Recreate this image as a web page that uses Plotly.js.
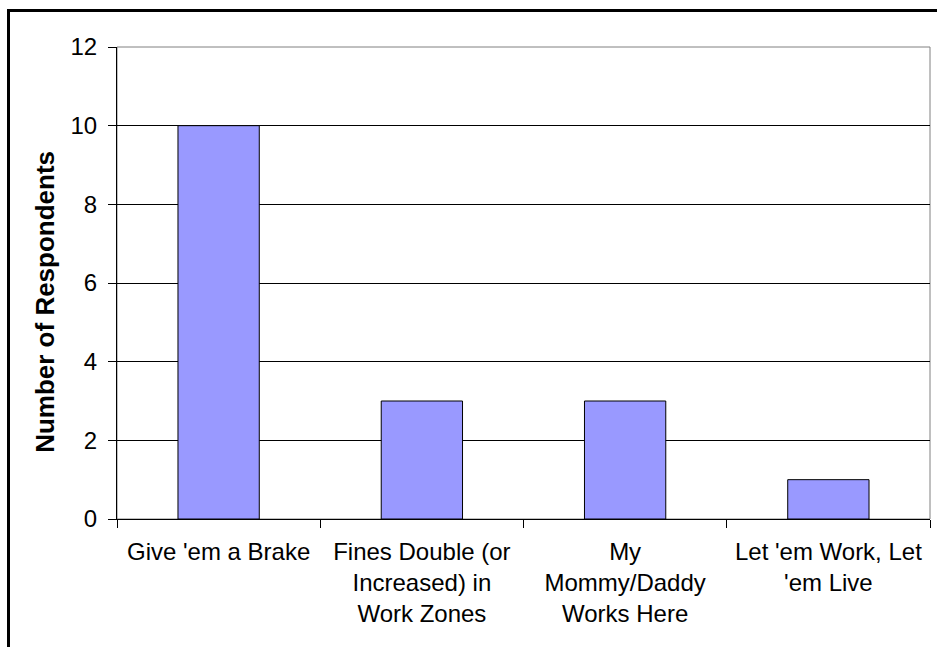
<!DOCTYPE html>
<html>
<head>
<meta charset="utf-8">
<script src="https://cdn.plot.ly/plotly-3.0.1.min.js"></script>
<style>
  html, body { margin: 0; padding: 0; background: #fff; overflow: hidden; }
  #chart { width: 937px; height: 647px; }
  #frame { position: absolute; left: 7px; top: 9px; width: 1000px; height: 1000px;
           border: 3px solid #000; pointer-events: none; box-sizing: border-box; }
</style>
</head>
<body>
<div id="chart"></div>
<div id="frame"></div>
<script>
const categories = [
  "Give 'em a Brake",
  "Fines Double (or<br>Increased) in<br>Work Zones",
  "My<br>Mommy/Daddy<br>Works Here",
  "Let 'em Work, Let<br>'em Live"
];
const respondents = [10, 3, 3, 1];
const yTickValues = [0, 2, 4, 6, 8, 10, 12];
const yAxisTitle = "Number of Respondents";

const font = "Liberation Sans, Arial, sans-serif";

const trace = {
  type: 'bar',
  x: categories,
  y: respondents,
  marker: { color: '#9999FF', line: { color: '#000000', width: 1 } },
  hoverinfo: 'x+y'
};

const layout = {
  width: 937,
  height: 647,
  margin: { l: 117, r: 7, t: 47, b: 128 },
  paper_bgcolor: '#ffffff',
  plot_bgcolor: '#ffffff',
  bargap: 0.6,
  showlegend: false,
  font: { family: font, size: 24, color: '#000' },
  xaxis: {
    type: 'category',
    tickson: 'boundaries',
    ticks: 'outside',
    ticklen: 8,
    tickcolor: '#000',
    showline: true,
    linecolor: '#000',
    linewidth: 1,
    showgrid: false,
    ticklabelstandoff: 11,
    tickfont: { family: font, size: 24, color: '#000' }
  },
  yaxis: {
    range: [0, 12],
    tickvals: yTickValues,
    ticks: 'outside',
    ticklen: 8,
    tickcolor: '#000',
    showline: true,
    linecolor: '#000',
    linewidth: 1,
    showgrid: true,
    gridcolor: '#000',
    gridwidth: 1,
    zeroline: false,
    ticklabelstandoff: 6,
    tickfont: { family: font, size: 24, color: '#000' }
  },
  annotations: [{
    text: yAxisTitle,
    xref: 'paper', yref: 'paper',
    x: -0.0886, y: 0.46,
    xanchor: 'center', yanchor: 'middle',
    textangle: -90,
    showarrow: false,
    font: { family: font, size: 26, color: '#000', weight: 'bold' }
  }],
  shapes: [{
    type: 'rect', xref: 'paper', yref: 'paper', x0: 0, x1: 1, y0: 0, y1: 1,
    line: { color: '#808080', width: 1 }, layer: 'below'
  }]
};

Plotly.newPlot('chart', [trace], layout, { displayModeBar: false, staticPlot: true });
</script>
</body>
</html>
